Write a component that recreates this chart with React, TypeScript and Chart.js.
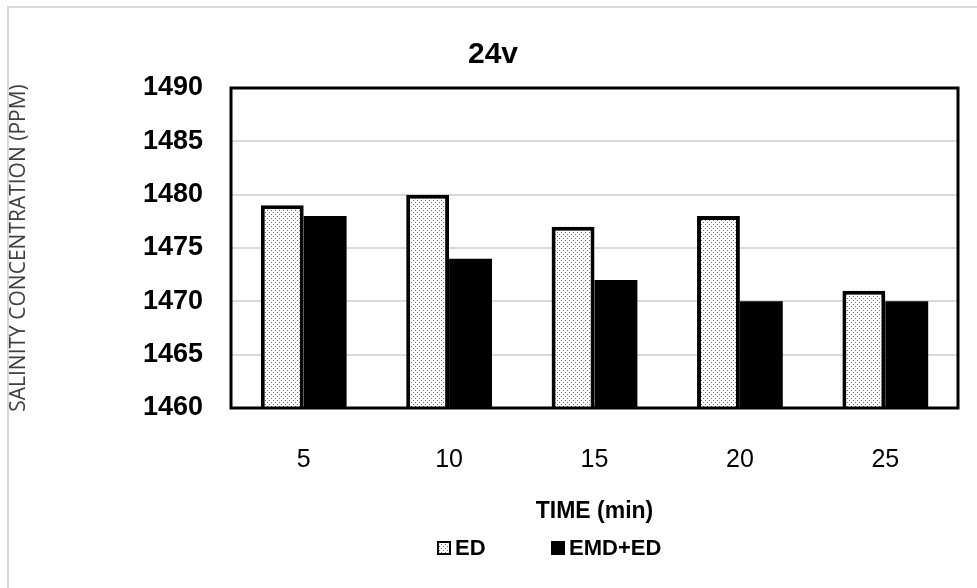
import React, { useEffect, useRef } from 'react';
import { Chart, registerables } from 'chart.js';

Chart.register(...registerables);

// ---- data ----
const categories = ['5', '10', '15', '20', '25'];
const edValues = [1479, 1480, 1477, 1478, 1471];
const emdEdValues = [1478, 1474, 1472, 1470, 1470];
const yTicks = [1460, 1465, 1470, 1475, 1480, 1485, 1490];
const seriesNames = ['ED', 'EMD+ED'];
const chartTitle = '24v';
const xTitle = 'TIME (min)';
const yTitle = 'SALINITY CONCENTRATION (PPM)';

const FONT = '"Liberation Sans", Arial, sans-serif';
const SANS = '"Open Sans", "Noto Sans", sans-serif';

function makeDotPattern(): CanvasPattern | string {
  const pc = document.createElement('canvas');
  pc.width = 4;
  pc.height = 4;
  const c = pc.getContext('2d');
  if (!c) return '#cccccc';
  c.fillStyle = '#ffffff';
  c.fillRect(0, 0, 4, 4);
  c.fillStyle = '#6f6f6f';
  c.fillRect(0, 0, 1, 1);
  c.fillRect(2, 2, 1, 1);
  const p = c.createPattern(pc, 'repeat');
  return p || '#cccccc';
}

export default function App() {
  const ref = useRef<HTMLCanvasElement | null>(null);

  useEffect(() => {
    if (!ref.current) return;
    const pattern = makeDotPattern();

    const framePlugin = {
      id: 'frame',
      afterDatasetsDraw(chart: any) {
        const { ctx, chartArea } = chart;
        ctx.save();
        ctx.strokeStyle = '#000000';
        ctx.lineWidth = 3;
        ctx.strokeRect(chartArea.left, chartArea.top, chartArea.right - chartArea.left, chartArea.bottom - chartArea.top);
        ctx.restore();
      },
    };

    const legendPlugin = {
      id: 'customLegend',
      afterDraw(chart: any) {
        const { ctx } = chart;
        const ds = chart.data.datasets;
        const positions = [428, 542];
        const cy = 540;
        const box = 14;
        ctx.save();
        ctx.font = `bold 22px ${FONT}`;
        ctx.textBaseline = 'middle';
        ctx.textAlign = 'left';
        ds.forEach((d: any, i: number) => {
          const x = positions[i];
          ctx.fillStyle = d.backgroundColor;
          ctx.fillRect(x, cy - box / 2, box, box);
          ctx.strokeStyle = '#000000';
          ctx.lineWidth = 2;
          ctx.strokeRect(x + 1, cy - box / 2 + 1, box - 2, box - 2);
          ctx.fillStyle = '#000000';
          ctx.fillText(d.label, x + box + 4, cy + 1);
        });
        ctx.restore();
      },
    };

    const chart = new Chart(ref.current, {
      type: 'bar',
      data: {
        labels: categories,
        datasets: [
          {
            label: seriesNames[0],
            data: edValues,
            backgroundColor: pattern as any,
            borderColor: '#000000',
            borderWidth: 4,
            categoryPercentage: 0.59,
            barPercentage: 1,
          },
          {
            label: seriesNames[1],
            data: emdEdValues,
            backgroundColor: '#000000',
            borderColor: '#000000',
            borderWidth: 0,
            categoryPercentage: 0.59,
            barPercentage: 1,
          },
        ],
      },
      options: {
        animation: false,
        responsive: false,
        maintainAspectRatio: false,
        devicePixelRatio: 1,
        layout: { padding: { left: 0, right: 0, top: 0, bottom: 60 } },
        plugins: {
          legend: { display: false },
          tooltip: { enabled: false },
          title: {
            display: true,
            text: chartTitle,
            color: '#000000',
            font: { family: FONT, size: 30, weight: 'bold' },
            padding: { top: 29, bottom: 15 },
          },
        },
        scales: {
          x: {
            grid: { display: false, drawTicks: false },
            border: { display: false },
            ticks: {
              color: '#000000',
              font: { family: FONT, size: 25 },
              padding: 37,
            },
            title: {
              display: true,
              text: xTitle,
              color: '#000000',
              font: { family: FONT, size: 23, weight: 'bold' },
              padding: { top: 0, bottom: 3 },
            },
            afterFit(scale: any) {
              scale.height = 120;
            },
          },
          y: {
            min: 1460,
            max: 1490,
            grid: { color: '#d9d9d9', lineWidth: 2, drawTicks: false },
            border: { display: false },
            afterBuildTicks(scale: any) {
              scale.ticks = yTicks.map((v) => ({ value: v }));
            },
            ticks: {
              color: '#000000',
              font: { family: FONT, size: 27, weight: 'bold' },
              padding: 28,
              callback: (v: any) => String(v),
            },
            title: {
              display: true,
              text: yTitle,
              color: '#404040',
              font: { family: SANS, size: 21, lineHeight: 1 },
              padding: { top: 0, bottom: 0 },
            },
            afterFit(scale: any) {
              scale.width = 222;
            },
          },
          yRightSpace: {
            position: 'right',
            display: true,
            grid: { display: false, drawTicks: false },
            border: { display: false },
            ticks: { display: false },
            afterFit(scale: any) {
              scale.width = 19;
            },
          },
        },
      },
      plugins: [framePlugin, legendPlugin],
    } as any);

    return () => {
      chart.destroy();
    };
  }, []);

  return (
    <div
      style={{
        position: 'absolute',
        left: 7,
        top: 6,
        width: 970,
        height: 582,
        borderTop: '2px solid #d9d9d9',
        borderLeft: '2px solid #d9d9d9',
        boxSizing: 'border-box',
        background: '#ffffff',
      }}
    >
      <canvas ref={ref} width={968} height={580} style={{ display: 'block', position: 'absolute', left: 0, top: 0 }} />
    </div>
  );
}
